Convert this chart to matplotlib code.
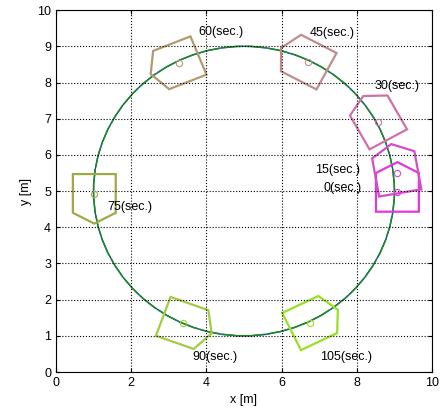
import matplotlib
matplotlib.use("Agg")
import matplotlib.pyplot as plt
from matplotlib.patches import Polygon, Circle
from matplotlib.transforms import Affine2D

plt.rcParams['font.family'] = ['Liberation Sans', 'DejaVu Sans']

# robot poses: time, x, y, heading (deg)
times = [0, 15, 30, 45, 60, 75, 90, 105]
pose_x = [9.08, 9.06, 8.57, 6.71, 3.28, 1.02, 3.37, 6.76]
pose_y = [4.98, 5.49, 6.91, 8.57, 8.54, 4.92, 1.35, 1.36]
heading = [90, 100, 119, 152, 202, 270, 340, 26]
label_x = [7.12, 6.9, 8.48, 6.76, 3.8, 1.38, 3.64, 7.02]
label_y = [5.08, 5.58, 7.9, 9.36, 9.39, 4.56, 0.41, 0.41]
colors = ['#e038dc', '#d44cc8', '#d070a8', '#c08c8c',
          '#b09a72', '#a0a848', '#a0cc40', '#98e020']

# reference path
path_center = (5.0, 5.0)
path_radius = 4.0

# robot outline in its own frame (forward, left)
body = [(-0.55, -0.57), (0.52, -0.57), (0.82, 0.0), (0.52, 0.57), (-0.55, 0.57)]

fig = plt.figure(figsize=(4.44, 4.15), dpi=100)
ax = fig.add_axes([0.126, 0.1036, 0.847, 0.872])

ax.add_patch(Circle(path_center, path_radius, fill=False, color='#2040d0', lw=1.0))
ax.add_patch(Circle(path_center, path_radius, fill=False, color='#1a8a1a', lw=1.1,
                    linestyle=(0, (14, 1.2))))

for t, x, y, h, lx, ly, c in zip(times, pose_x, pose_y, heading, label_x, label_y, colors):
    tr = Affine2D().rotate_deg(h).translate(x, y) + ax.transData
    ax.add_patch(Polygon(body, closed=True, fill=False, edgecolor=c, lw=1.6, transform=tr))
    ax.plot(x, y, 'o', mfc='none', mec=c, ms=4.5, mew=0.8)
    ax.text(lx, ly, '%d(sec.)' % t, fontsize=9, ha='left', va='center')

ax.set_xlim(0, 10)
ax.set_ylim(0, 10)
ax.set_xticks(range(0, 11, 2))
ax.set_yticks(range(0, 11))
ax.grid(True, color='black', linestyle=':', linewidth=0.8)
ax.tick_params(direction='in', top=True, right=True, labelsize=9, length=3)
ax.set_xlabel('x [m]', fontsize=9)
ax.set_ylabel('y [m]', fontsize=9)

fig.savefig('out.png', dpi=100)
